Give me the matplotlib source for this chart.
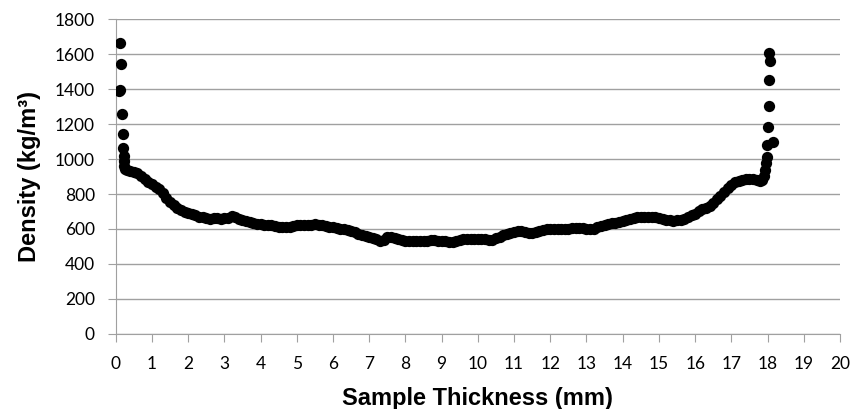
import numpy as np
import matplotlib
matplotlib.use('Agg')
from matplotlib import pyplot as plt

# density profile (mm, kg/m3)
edge_left_x = [0.08, 0.12, 0.12, 0.14, 0.17, 0.19, 0.21, 0.22, 0.23, 0.24, 0.26]
edge_left_d = [1390, 1395, 1665, 1541, 1257, 1143, 1065, 1020, 990, 960, 945]

core_x = [0.3, 0.4, 0.5, 0.6, 0.7, 0.8, 0.9, 1.0, 1.1, 1.2, 1.3, 1.4, 1.5, 1.6, 1.7, 1.8, 1.9,
          2.0, 2.1, 2.2, 2.3, 2.4, 2.5, 2.6, 2.7, 2.8, 2.9, 3.0, 3.1, 3.2, 3.3, 3.4, 3.5, 3.6,
          3.7, 3.8, 3.9, 4.0, 4.1, 4.2, 4.3, 4.4, 4.5, 4.6, 4.7, 4.8, 4.9, 5.0, 5.1, 5.2, 5.3,
          5.4, 5.5, 5.6, 5.7, 5.8, 5.9, 6.0, 6.1, 6.2, 6.3, 6.4, 6.5, 6.6, 6.7, 6.8, 6.9, 7.0,
          7.1, 7.2, 7.3, 7.4, 7.5, 7.6, 7.7, 7.8, 7.9, 8.0, 8.1, 8.2, 8.3, 8.4, 8.5, 8.6, 8.7,
          8.8, 8.9, 9.0, 9.1, 9.2, 9.3, 9.4, 9.5, 9.6, 9.7, 9.8, 9.9, 10.0, 10.1, 10.2, 10.3,
          10.4, 10.5, 10.6, 10.7, 10.8, 10.9, 11.0, 11.1, 11.2, 11.3, 11.4, 11.5, 11.6, 11.7,
          11.8, 11.9, 12.0, 12.1, 12.2, 12.3, 12.4, 12.5, 12.6, 12.7, 12.8, 12.9, 13.0, 13.1,
          13.2, 13.3, 13.4, 13.5, 13.6, 13.7, 13.8, 13.9, 14.0, 14.1, 14.2, 14.3, 14.4, 14.5,
          14.6, 14.7, 14.8, 14.9, 15.0, 15.1, 15.2, 15.3, 15.4, 15.5, 15.6, 15.7, 15.8, 15.9,
          16.0, 16.1, 16.2, 16.3, 16.4, 16.5, 16.6, 16.7, 16.8, 16.9, 17.0, 17.1, 17.2, 17.3,
          17.4, 17.5, 17.6, 17.7, 17.8, 17.85]
core_d = [938, 932, 927, 918, 902, 886, 870, 856, 842, 826, 805, 778, 755, 735, 720, 708, 698,
          690, 684, 678, 670, 668, 664, 660, 662, 662, 660, 662, 664, 672, 668, 660, 652, 646,
          642, 636, 630, 626, 624, 622, 620, 616, 614, 612, 610, 612, 616, 620, 622, 623, 624,
          625, 626, 625, 620, 616, 612, 610, 606, 602, 600, 596, 590, 582, 574, 568, 561, 555,
          548, 540, 532, 535, 552, 556, 548, 540, 535, 533, 532, 533, 534, 532, 533, 534, 536,
          535, 533, 531, 530, 528, 526, 530, 538, 544, 545, 543, 541, 540, 542, 545, 536,
          538, 548, 556, 563, 570, 578, 584, 588, 586, 582, 578, 578, 584, 590,
          595, 598, 598, 600, 599, 600, 602, 601, 603, 604, 604, 603, 602, 600,
          602, 610, 616, 621, 626, 632, 637, 642, 648, 653, 658, 665, 668, 668,
          667, 669, 670, 668, 665, 660, 654, 650, 648, 650, 654, 660, 668, 678,
          688, 702, 712, 720, 732, 748, 770, 790, 810, 832, 852, 866, 876, 880,
          884, 888, 886, 880, 876, 880]

edge_right_x = [17.9, 17.93, 17.96, 17.99, 17.99, 18.14, 18.0, 18.03, 18.05, 18.08, 18.05]
edge_right_d = [905, 940, 975, 1013, 1080, 1095, 1185, 1303, 1451, 1562, 1604]

x = np.array(edge_left_x + core_x + edge_right_x)
d = np.array(edge_left_d + core_d + edge_right_d)

plt.rcParams['font.family'] = ['Liberation Sans', 'DejaVu Sans']
fig = plt.figure(figsize=(8.58, 4.09), dpi=100)
ax = fig.add_axes([0.1349, 0.1834, 0.8441, 0.7701])

ax.scatter(x, d, s=66, color='black', zorder=3, linewidths=0)

ax.set_xlim(0, 20)
ax.set_ylim(0, 1800)
ax.set_xticks(np.arange(0, 21, 1))
ax.set_yticks(np.arange(0, 1801, 200))
ax.grid(axis='y', color='#A0A0A0', linewidth=1)
ax.set_axisbelow(True)
for s in ['top', 'right']:
    ax.spines[s].set_visible(False)
for s in ['left', 'bottom']:
    ax.spines[s].set_color('#A0A0A0')
ax.tick_params(axis='both', direction='out', length=6, color='#A0A0A0',
               labelsize=12.5, labelcolor='black')
for lab in ax.get_xticklabels() + ax.get_yticklabels():
    lab.set_family(['Lato', 'DejaVu Sans'])
ax.tick_params(axis='x', pad=10)
ax.tick_params(axis='y', pad=9)
ax.set_xlabel('Sample Thickness (mm)', fontsize=17, fontweight='bold', labelpad=11)
ax.set_ylabel('Density (kg/m³)', fontsize=17, fontweight='bold', labelpad=10)

plt.savefig('out.png', dpi=100)
